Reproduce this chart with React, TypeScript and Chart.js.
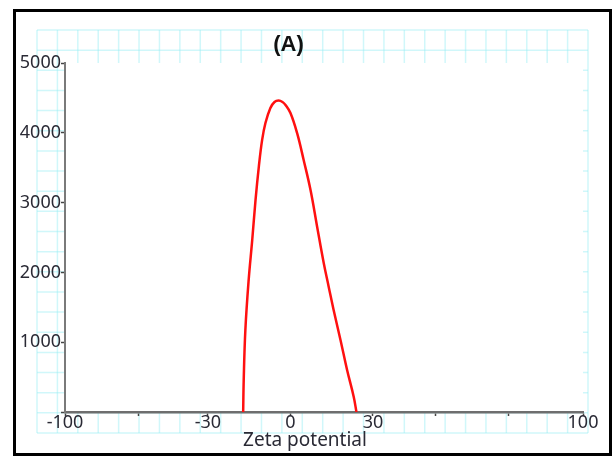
import React, { useEffect, useRef } from "react";
import { Chart, registerables } from "chart.js";

Chart.register(...registerables);

// Zeta potential (x) and counts (y)
const zetaValues = [
  -17.2, -17.0, -16.4, -15.2, -13.9, -12.7, -11.5, -10.3, -9.1, -7.3,
  -5.8, -4.3, -2.9, -1.8, 0, 2.4, 4.8, 7.3, 9.7, 12.1, 13.9, 15.7, 18.2, 20.6,
  23.0, 24.0,
];
const countValues = [
  0, 459, 1175, 1892, 2465, 3038, 3516, 3898, 4141, 4356, 4442, 4461,
  4442, 4399, 4284, 3998, 3611, 3181, 2655, 2135, 1796, 1462, 1032, 602, 219, 0,
];

// x axis as printed in the reference (end labels sit at the axis ends)
const xMin = -82;
const xMax = 106.4;
const xTickValues = [-82, -55.3, -30, 0, 30, 52.7, 79.3, 106.4];
const xTickLabels = ["-100", "", "-30", "0", "30", "", "", "100"];

const yMin = 0;
const yMax = 5000;
const yStep = 1000;

const titleText = "(A)";
const xAxisTitle = "Zeta potential";

const paperPlugin = {
  id: "paper",
  beforeDraw(chart: any) {
    const { ctx, chartArea: a } = chart;
    const gx0 = a.left - 28;
    const gx1 = a.right + 5;
    const gy0 = a.top - 33;
    const gy1 = a.bottom + 21;
    ctx.save();
    ctx.strokeStyle = "rgba(150, 238, 244, 0.45)";
    ctx.lineWidth = 1.5;
    const nx = 27;
    const dx = (gx1 - gx0) / nx;
    for (let i = 0; i <= nx; i++) {
      const x = gx0 + i * dx;
      ctx.beginPath();
      ctx.moveTo(x, gy0);
      ctx.lineTo(x, gy1);
      ctx.stroke();
    }
    const ny = 20;
    const dy = (gy1 - gy0) / ny;
    for (let j = 0; j <= ny; j++) {
      const y = gy0 + j * dy;
      ctx.beginPath();
      ctx.moveTo(gx0, y);
      ctx.lineTo(gx1, y);
      ctx.stroke();
    }
    ctx.fillStyle = "#ffffff";
    ctx.fillRect(a.left, a.top, a.right - a.left, a.bottom - a.top);
    ctx.restore();
  },
};

export default function App() {
  const ref = useRef<HTMLCanvasElement | null>(null);

  useEffect(() => {
    if (!ref.current) return;
    const data = zetaValues.map((x, i) => ({ x, y: countValues[i] }));
    const tickFont = { family: "'Noto Sans', sans-serif", size: 18 };
    const chart = new Chart(ref.current, {
      type: "line",
      data: {
        datasets: [
          {
            data,
            borderColor: "#ff1010",
            borderWidth: 2.5,
            pointRadius: 0,
            tension: 0.4,
            fill: false,
          },
        ],
      },
      options: {
        responsive: false,
        animation: false,
        devicePixelRatio: 1,
        layout: { padding: { left: 0, right: 26, top: 0, bottom: 0 } },
        plugins: {
          legend: { display: false },
          tooltip: { enabled: false },
          title: {
            display: true,
            text: titleText + "\u2003",
            color: "#111111",
            font: { family: "'Liberation Sans', Arial, sans-serif", size: 22, weight: "bold" },
            padding: { top: 20, bottom: 4.6 },
          },
        },
        scales: {
          x: {
            type: "linear",
            min: xMin,
            max: xMax,
            afterBuildTicks: (scale: any) => {
              scale.ticks = xTickValues.map((v) => ({ value: v }));
            },
            afterFit: (scale: any) => {
              scale.height = 41;
            },
            ticks: {
              autoSkip: false,
              maxRotation: 0,
              padding: -4,
              color: "#2a2a35",
              font: tickFont,
              callback: (_v: any, i: number) => xTickLabels[i] ?? "",
            },
            grid: {
              display: true,
              drawOnChartArea: false,
              drawTicks: true,
              tickLength: 4,
              tickColor: "#444444",
              tickWidth: 1.5,
            },
            border: { display: true, color: "#6e6e6e", width: 2.5 },
            title: {
              display: true,
              text: xAxisTitle + "\u2003\u2003",
              color: "#2a2a35",
              font: { family: "'Noto Sans', sans-serif", size: 19 },
              padding: { top: 0, bottom: 1 },
            },
          },
          y: {
            type: "linear",
            min: yMin,
            max: yMax,
            afterFit: (scale: any) => {
              scale.width = 49;
            },
            ticks: {
              stepSize: yStep,
              padding: 0,
              color: "#2a2a35",
              font: tickFont,
              callback: (v: any) => (Number(v) === 0 ? "" : String(v)),
            },
            grid: {
              display: true,
              drawOnChartArea: false,
              drawTicks: true,
              tickLength: 4,
              tickColor: "#444444",
              tickWidth: 1.5,
            },
            border: { display: true, color: "#7a7a7a", width: 2 },
          },
        },
      },
      plugins: [paperPlugin],
    } as any);
    return () => chart.destroy();
  }, []);

  return (
    <div
      style={{
        position: "absolute",
        left: 13,
        top: 9,
        width: 599,
        height: 447,
        border: "3px solid #000",
        boxSizing: "border-box",
        background: "#fff",
      }}
    >
      <canvas
        ref={ref}
        width={593}
        height={441}
        style={{ display: "block", width: 593, height: 441 }}
      />
    </div>
  );
}
